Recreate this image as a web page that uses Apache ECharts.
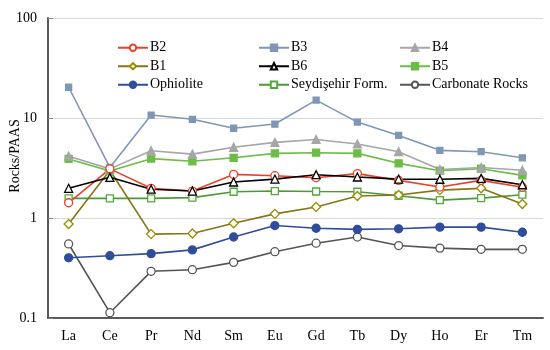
<!DOCTYPE html>
<html><head><meta charset="utf-8">
<script src="https://cdn.jsdelivr.net/npm/echarts@6/dist/echarts.min.js"></script>
<style>html,body{margin:0;padding:0;background:#fff}#c{width:550px;height:350px}</style>
</head><body><div id="c"></div>
<script>
var categories = ['La','Ce','Pr','Nd','Sm','Eu','Gd','Tb','Dy','Ho','Er','Tm'];
var B2 = [1.42, 3.1, 1.98, 1.86, 2.73, 2.65, 2.53, 2.78, 2.38, 2.04, 2.38, 2.03];
var B3 = [20.3, 3.2, 10.7, 9.7, 7.9, 8.7, 15.1, 9.1, 6.7, 4.75, 4.6, 4.0];
var B4 = [4.15, 3.1, 4.7, 4.35, 5.1, 5.7, 6.1, 5.5, 4.6, 3.05, 3.2, 3.0];
var B1 = [0.87, 3.0, 0.69, 0.70, 0.885, 1.10, 1.29, 1.66, 1.70, 1.90, 1.98, 1.38];
var B6 = [1.98, 2.55, 1.94, 1.86, 2.29, 2.45, 2.71, 2.57, 2.45, 2.44, 2.49, 2.15];
var B5 = [3.9, 2.95, 3.92, 3.69, 4.0, 4.43, 4.5, 4.43, 3.52, 2.97, 3.11, 2.67];
var ophiolite = [0.40, 0.42, 0.44, 0.48, 0.646, 0.84, 0.79, 0.77, 0.78, 0.81, 0.81, 0.72];
var seydisehir = [1.57, 1.57, 1.57, 1.60, 1.83, 1.86, 1.84, 1.83, 1.67, 1.51, 1.58, 1.71];
var carbonate = [0.55, 0.113, 0.293, 0.304, 0.36, 0.46, 0.56, 0.645, 0.53, 0.50, 0.486, 0.486];
var yTicks = [0.1, 1, 10, 100];

var FONT = '"Liberation Serif", "DejaVu Serif", serif';
function s(name, data, color, symbol, filled, lineColor, size) {
  return {
    name: name, type: 'line', data: data,
    symbol: symbol, symbolSize: size || 7,
    lineStyle: {color: lineColor || color, width: 1.6},
    itemStyle: {color: filled ? color : '#fff', borderColor: color, borderWidth: 1.3},
    emphasis: {disabled: true}, animation: false
  };
}
var chart = echarts.init(document.getElementById('c'), null, {renderer: 'canvas'});
var legendBase = {orient: 'vertical', top: 35, itemGap: 3, itemWidth: 30, itemHeight: 8,
  textStyle: {fontFamily: FONT, fontSize: 14, color: '#000', padding: [0,0,0,-3], lineHeight: 15.5}};
chart.setOption({
  backgroundColor: '#fff',
  textStyle: {fontFamily: FONT},
  legend: [
    Object.assign({}, legendBase, {left: 112, data: ['B2', 'B1', 'Ophiolite']}),
    Object.assign({}, legendBase, {left: 253, data: ['B3', 'B6', 'Seydişehir Form.']}),
    Object.assign({}, legendBase, {left: 394, data: ['B4', 'B5', 'Carbonate Rocks']})
  ],
  grid: {left: 48, right: 7, top: 18, bottom: 32, containLabel: false, outerBoundsMode: 'none'},
  xAxis: {
    type: 'category', data: categories, boundaryGap: true,
    axisLine: {lineStyle: {color: '#595959', width: 2}},
    axisTick: {inside: true, length: 4, lineStyle: {color: '#404040', width: 1.3}},
    axisLabel: {fontFamily: FONT, fontSize: 14, color: '#000', margin: 11}
  },
  yAxis: {
    type: 'log', logBase: 10, min: 0.1, max: 100,
    name: 'Rocks/PAAS', nameLocation: 'middle', nameGap: 26, nameRotate: 90, nameMoveOverlap: false,
    nameTextStyle: {fontFamily: FONT, fontSize: 14, color: '#000', padding: [0,0,0,24]},
    axisLine: {show: true, lineStyle: {color: '#595959', width: 2}},
    axisTick: {show: true, inside: true, length: 5, lineStyle: {color: '#6d8aa0', width: 1}},
    splitLine: {show: true, lineStyle: {color: '#d9d9d9', width: 1}},
    minorTick: {show: false},
    axisLabel: {fontFamily: FONT, fontSize: 14, color: '#000', margin: 11,
      formatter: function (v) { return yTicks.indexOf(+(+v).toPrecision(3)) >= 0 ? String(+(+v).toPrecision(3)) : ''; }}
  },
  series: [
    s('Carbonate Rocks', carbonate, '#555555', 'circle', false, '#555555', 8),
    s('Ophiolite', ophiolite, '#2f4d9a', 'circle', true, '#2f4d9a', 8),
    s('Seydişehir Form.', seydisehir, '#55a83a', 'rect', false, '#4a9a36', 7),
    s('B1', B1, '#9a8c00', 'diamond', false, '#857518', 9),
    s('B5', B5, '#6cbd45', 'rect', true, '#6cbd45', 7),
    s('B4', B4, '#a6a6a6', 'triangle', true, '#a6a6a6', 8),
    s('B3', B3, '#7f97b5', 'rect', true, '#7f97b5', 6),
    s('B2', B2, '#e8432a', 'circle', false, '#e8432a', 8),
    s('B6', B6, '#000000', 'triangle', false, '#000000', 8)
  ]
});
</script></body></html>
